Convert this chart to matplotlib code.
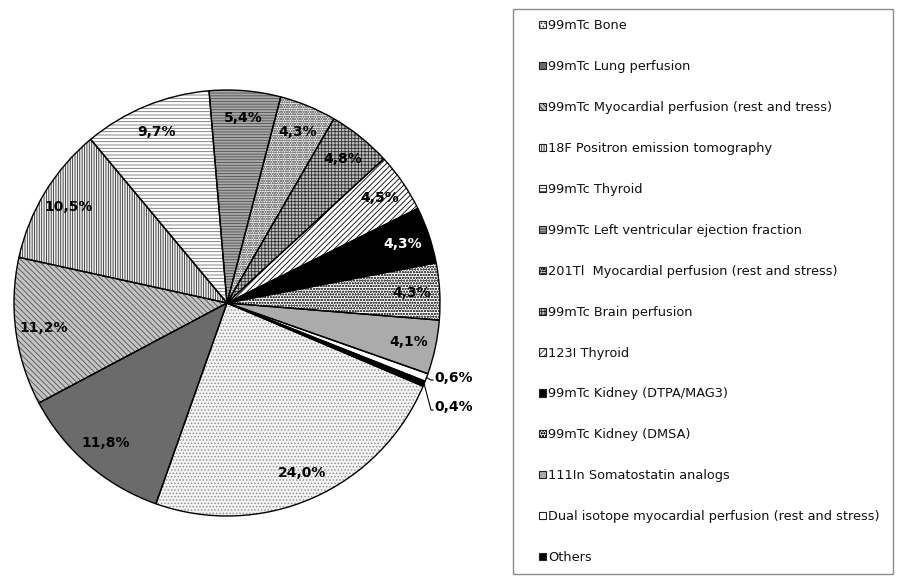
import numpy as np
import matplotlib
matplotlib.use("Agg")
import matplotlib.pyplot as plt
from matplotlib.patches import Rectangle
from matplotlib.legend_handler import HandlerPatch

# Share of procedures by examination type
categories = [
    "99mTc Bone",
    "99mTc Lung perfusion",
    "99mTc Myocardial perfusion (rest and tress)",
    "18F Positron emission tomography",
    "99mTc Thyroid",
    "99mTc Left ventricular ejection fraction",
    "201Tl  Myocardial perfusion (rest and stress)",
    "99mTc Brain perfusion",
    "123I Thyroid",
    "99mTc Kidney (DTPA/MAG3)",
    "99mTc Kidney (DMSA)",
    "111In Somatostatin analogs",
    "Dual isotope myocardial perfusion (rest and stress)",
    "Others",
]
shares = [24.0, 11.8, 11.2, 10.5, 9.7, 5.4, 4.3, 4.8, 4.5, 4.3, 4.3, 4.1, 0.6, 0.4]

# fill colour, hatch pattern, hatch colour, label colour
styles = [
    ("#f2f2f2", ".....", "#8a8a8a", "black"),
    ("#6b6b6b", "", "#6b6b6b", "black"),
    ("#c4c4c4", "\\\\\\\\\\\\", "#505050", "black"),
    ("#f0f0f0", "|||||||", "#303030", "black"),
    ("#ffffff", "-----", "#707070", "black"),
    ("#a8a8a8", "------", "#505050", "black"),
    ("#f6f6f6", "ooooooo", "#808080", "black"),
    ("#c0c0c0", "+++++", "#303030", "black"),
    ("#ffffff", "//////", "#000000", "black"),
    ("#000000", "", "#000000", "white"),
    ("#ffffff", "oooooo", "#4a4a4a", "black"),
    ("#ababab", "", "#ababab", "black"),
    ("#ffffff", "", "#ffffff", "black"),
    ("#000000", "", "#000000", "black"),
]

plt.rcParams["hatch.linewidth"] = 0.6
plt.rcParams["font.family"] = "DejaVu Sans"

W, H = 898, 576
fig = plt.figure(figsize=(W / 100, H / 100), dpi=100)
fig.patch.set_facecolor("white")

cx, cy, r = 227, 303, 213
ax = fig.add_axes([(cx - r) / W, (H - cy - r) / H, 2 * r / W, 2 * r / H])

start = -23.0
wedges, _ = ax.pie(
    shares,
    startangle=start,
    counterclock=False,
    colors=[s[0] for s in styles],
    wedgeprops=dict(linewidth=0),
)
for w, (fc, hatch, hc, _) in zip(wedges, styles):
    w.set_hatch(hatch)
    w.set_edgecolor(hc)
    w.set_linewidth(0)

# black outlines drawn over the hatched fills
outline, _ = ax.pie(
    shares,
    startangle=start,
    counterclock=False,
    wedgeprops=dict(facecolor="none", edgecolor="black", linewidth=1.0),
)

ax.set_xlim(-1, 1)
ax.set_ylim(-1, 1)
ax.set_aspect("equal")
ax.axis("off")


def pct_text(v):
    return f"{v:.1f}%".replace(".", ",")


small = []
for w, v, st in zip(outline, shares, styles):
    mid = np.deg2rad((w.theta1 + w.theta2) / 2)
    if v < 1:
        small.append((mid, v))
        continue
    d = 0.87
    ax.text(d * np.cos(mid), d * np.sin(mid), pct_text(v),
            ha="center", va="center", fontsize=10, fontweight="bold",
            color=st[3])


def px2data(px, py):
    return (px - cx) / r, (cy - py) / r


# leader lines for the two thin slices
targets = [(434, 378), (434, 407)]
elbows = [(431, 380), (431, 410)]
for (mid, v), (tx, ty), (ex, ey) in zip(small, targets, elbows):
    x0, y0 = np.cos(mid), np.sin(mid)
    x1, y1 = px2data(ex, ey)
    x2, y2 = px2data(tx - 1, ey)
    ax.plot([x0, x1, x2], [y0, y1, y2], color="black", lw=0.8, clip_on=False)
    xt, yt = px2data(tx, ty)
    ax.text(xt, yt, pct_text(v), ha="left", va="center", fontsize=10,
            fontweight="bold", clip_on=False)


def square_key(legend, orig_handle, xdescent, ydescent, width, height, fontsize):
    # small square key placed at the right end of the handle box
    side = 5.2
    return Rectangle((width - side - xdescent, (height - side) / 2 - ydescent),
                     side, side)


leg = fig.legend(
    wedges, categories,
    loc="upper left",
    bbox_to_anchor=(513 / W, 0, (893 - 513) / W, 1 - 9 / H),
    mode="expand",
    borderaxespad=0,
    frameon=True,
    fancybox=False,
    fontsize=9.3,
    handlelength=1.75,
    handleheight=0.7,
    handletextpad=0.15,
    labelspacing=2.16,
    borderpad=0.8,
    handler_map={w: HandlerPatch(patch_func=square_key) for w in wedges},
)
leg.get_frame().set_edgecolor("#707070")
leg.get_frame().set_linewidth(1.0)
for h in leg.legend_handles:
    h.set_linewidth(0.8)
    h.set_edgecolor("#222222")
for t in leg.get_texts():
    t.set_color("#111111")

fig.savefig("out.png", dpi=100, facecolor="white")
